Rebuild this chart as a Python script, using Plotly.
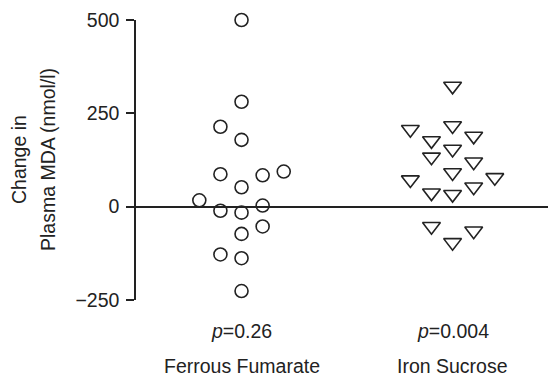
import plotly.graph_objects as go

groups = ["Ferrous Fumarate", "Iron Sucrose"]
p_labels = ["<i>p</i>=0.26", "<i>p</i>=0.004"]
y_title_lines = ["Change in", "Plasma MDA (nmol/l)"]

# Ferrous Fumarate: change values and dot-plot column (side-by-side slot)
ff_values = [500, 281, 179, 52, -16, -73, -138, -226,
             214, 87, -11, -128,
             17,
             84, 3, -53,
             94]
ff_slots = [0, 0, 0, 0, 0, 0, 0, 0,
            -1, -1, -1, -1,
            -2,
            1, 1, 1,
            2]

# Iron Sucrose
is_values = [323, 217, 154, 91, 33, -96,
             177, 133, 37, -53,
             207, 72,
             189, 120, 53, -65,
             78]
is_slots = [0, 0, 0, 0, 0, 0,
            -1, -1, -1, -1,
            -2, -2,
            1, 1, 1, 1,
            2]

y_ticks = [-250, 0, 250, 500]
y_ticktext = ["\u2212250", "0", "250", "500"]
slot_width = 0.1

ink = "#222222"
font = "Liberation Sans, Arial, sans-serif"
fs = 19.5

fig = go.Figure()
fig.add_trace(go.Scatter(
    x=[0 + s * slot_width for s in ff_slots], y=ff_values, mode="markers",
    marker=dict(symbol="circle-open", size=13, color=ink, line=dict(width=1.6, color=ink)),
    cliponaxis=False, showlegend=False, hoverinfo="y"))
fig.add_trace(go.Scatter(
    x=[1 + s * slot_width for s in is_slots], y=is_values, mode="markers",
    marker=dict(symbol="triangle-down-open", size=15.5, color=ink, line=dict(width=1.6, color=ink)),
    cliponaxis=False, showlegend=False, hoverinfo="y"))

for i, (lab, grp) in enumerate(zip(p_labels, groups)):
    fig.add_annotation(x=i, y=0, xref="x", yref="paper", text=lab, showarrow=False,
                       yanchor="middle", yshift=-31, font=dict(size=fs, color=ink, family=font))
    fig.add_annotation(x=i, y=0, xref="x", yref="paper", text=grp, showarrow=False,
                       yanchor="middle", yshift=-66, font=dict(size=fs, color=ink, family=font))

for line, shift in zip(y_title_lines, [-117, -88]):
    fig.add_annotation(x=0, y=0.5, xref="paper", yref="paper", text=line, showarrow=False,
                       textangle=-90, xanchor="center", yanchor="middle", xshift=shift,
                       font=dict(size=fs, color=ink, family=font))

fig.update_layout(
    width=548, height=368,
    margin=dict(l=128, r=0, t=12, b=76),
    paper_bgcolor="white", plot_bgcolor="white",
    font=dict(family=font, size=fs, color=ink),
    xaxis=dict(range=[-0.5, 1.49], showticklabels=False,
               showline=False, showgrid=False, zeroline=False, ticks=""),
    yaxis=dict(range=[-250, 500], tickvals=y_ticks, ticktext=y_ticktext,
               showline=True, linecolor=ink, linewidth=1.5,
               ticks="outside", ticklen=8, tickwidth=1.5, tickcolor=ink,
               ticklabelstandoff=3, tickfont=dict(size=fs),
               showgrid=False, zeroline=True, zerolinecolor=ink, zerolinewidth=1.5),
)

fig.write_html("out.html")
